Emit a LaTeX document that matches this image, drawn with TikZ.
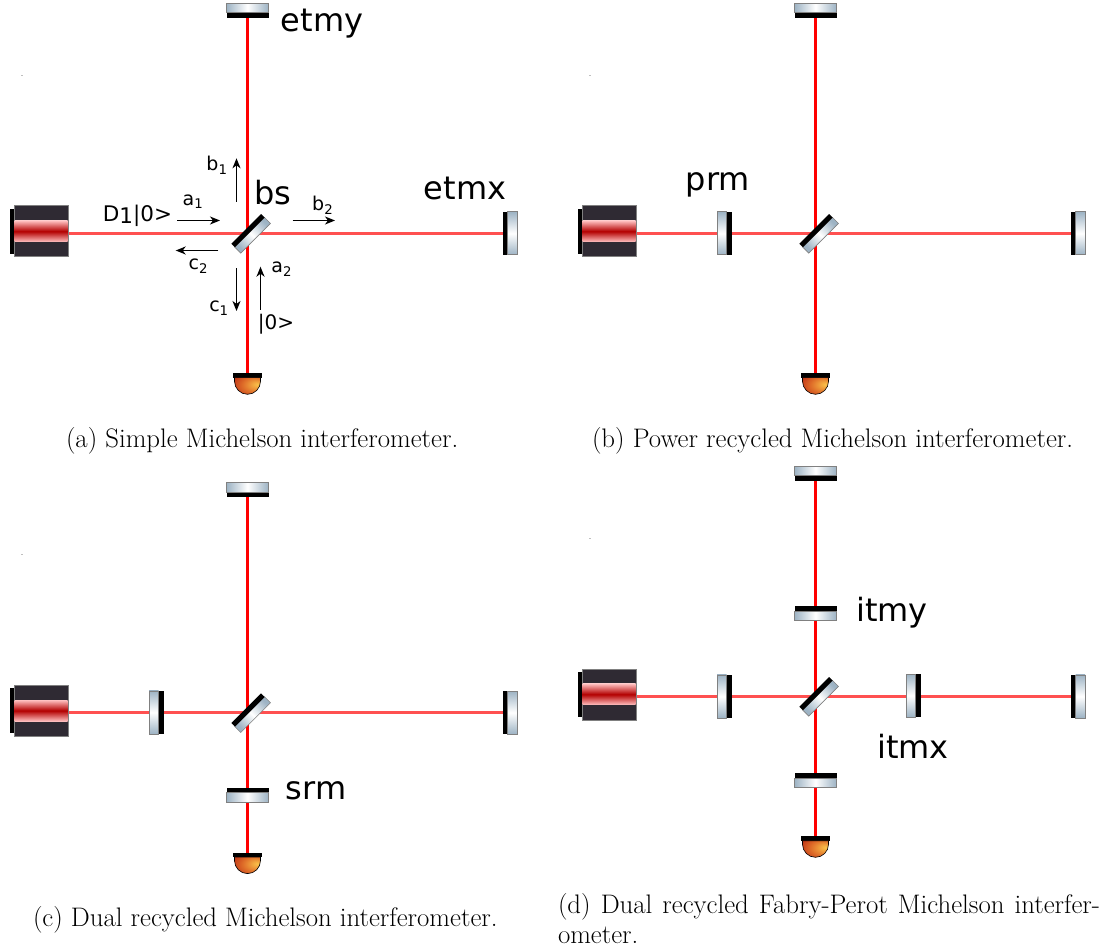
\documentclass[tikz,border=0pt]{standalone}
\usepackage{fontspec}
\setsansfont{DejaVu Sans}
\usetikzlibrary{positioning,backgrounds,arrows.meta}

\definecolor{steel}{HTML}{9DB3C4}
\definecolor{housing}{HTML}{2F2A33}
\definecolor{beamx}{HTML}{FF5050}
\definecolor{cuplight}{HTML}{FBC34A}
\definecolor{cupmid}{HTML}{E0702A}
\definecolor{cupdark}{HTML}{B31B0E}
\pgfdeclareradialshading{cupshade}{\pgfpoint{20bp}{5bp}}{%
  color(0bp)=(cuplight);color(22bp)=(cupmid);color(48bp)=(cupdark);color(70bp)=(cupdark)}

% common parts of one interferometer, origin at the beam crossing
\newcommand{\michelson}{
  \node[speck] (speck) at (-225.5,-158) {};
  \node[laser] (laser) at (-206.5,-2) {};
  \node[band] (band) at (laser.center) {};
  \node[laserbar,left=0pt of laser] (back) {};
  \coordinate (cross) at (0,0);
  \coordinate (exit) at (band.east |- cross);
  \node[glassbs] (bs glass) at (5.1,2) {};
  \node[barbs] (bs) at (0.5,-2.6) {};
  \node[hbar] (etmy) at (0,-218.2) {};
  \node[hglass,above=0pt of etmy] (etmy glass) {};
  \node[vbar] (etmx) at (257.5,0) {};
  \node[vglass,right=0pt of etmx] (etmx glass) {};
  \node[detbar] (det) at (0,142.2) {};
  \path[cup] ([xshift=-13pt]det.south) -- ++(0,3.6) arc (180:0:13) -- ++(0,-3.6) -- cycle;
  \begin{scope}[on background layer]
    \path[hor beam] (exit) edge (cross) (cross) edge (etmx);
    \path[ver beam] (etmy) edge (cross) (cross) edge (det);
  \end{scope}
}

\begin{document}
\begin{tikzpicture}[x=1pt,y=-1pt,>={Stealth[length=10pt,width=8pt,inset=3pt]},
    every node/.style={inner sep=0pt,outer sep=0pt},
    speck/.style={fill=gray!50,minimum size=1.5pt},
    laser/.style={draw=gray,fill=housing,line width=.6pt,minimum width=54pt,minimum height=51pt},
    band/.style={top color=red!25,bottom color=red!25,middle color=red!70!black,minimum width=53pt,minimum height=21pt},
    laserbar/.style={fill=black,minimum width=4.5pt,minimum height=45pt},
    hglass/.style={draw=gray,line width=.6pt,left color=steel,right color=steel,middle color=white,minimum width=42pt,minimum height=9.5pt},
    vglass/.style={draw=gray,line width=.6pt,top color=steel,bottom color=steel,middle color=white,minimum width=9.5pt,minimum height=43pt},
    hbar/.style={fill=black,minimum width=42pt,minimum height=5pt},
    vbar/.style={fill=black,minimum width=5pt,minimum height=43pt},
    glassbs/.style={draw=gray,line width=.6pt,rotate=45,left color=steel,right color=steel,middle color=white,shading angle=135,minimum width=42pt,minimum height=8.5pt},
    barbs/.style={fill=black,rotate=45,minimum width=42pt,minimum height=5pt},
    detbar/.style={fill=black,minimum width=29.6pt,minimum height=4.4pt},
    cup/.style={draw=black,line width=.6pt,shading=cupshade},
    hor beam/.style={draw=beamx,line width=3pt},
    ver beam/.style={draw=red,line width=3pt},
    flow/.style={->,line width=1.4pt},
    big tag/.style={font=\fontsize{32}{32}\sffamily},
    tag/.style={font=\fontsize{19}{19}\sffamily},
    caption/.style={font=\fontsize{26.8}{30}\selectfont,anchor=base west,align=left}]
  \useasboundingbox (0,0) rectangle (1114,949);

  \foreach \panel/\ox/\oy in {a/247.5/233.3,b/815.5/233.3,c/247.5/712.6,d/815.5/696.3}{
    \begin{scope}[shift={(\ox,\oy)},name prefix=\panel-]
      \michelson
    \end{scope}
  }

  % recycling and input mirrors
  \node[vbar] (b-prm) at (729.2,233.3) {};
  \node[vglass,left=0pt of b-prm] (b-prm glass) {};
  \node[vbar] (c-prm) at (161.2,712.3) {};
  \node[vglass,left=0pt of c-prm] (c-prm glass) {};
  \node[vbar] (d-prm) at (729.2,696.3) {};
  \node[vglass,left=0pt of d-prm] (d-prm glass) {};
  \node[hbar] (c-srm) at (247.5,790) {};
  \node[hglass,below=0pt of c-srm] (c-srm glass) {};
  \node[hbar] (d-srm) at (815.5,775.5) {};
  \node[hglass,below=0pt of d-srm] (d-srm glass) {};
  \node[hbar] (d-itmy) at (815.5,608.5) {};
  \node[hglass,below=0pt of d-itmy] (d-itmy glass) {};
  \node[vbar] (d-itmx) at (918,695.5) {};
  \node[vglass,left=0pt of d-itmx] (d-itmx glass) {};

  % names of the optics
  \node[big tag] (etmy tag) at (322,24) {etmy};
  \node[big tag] (etmx tag) at (465,188) {etmx};
  \node[big tag] (bs tag) at (273,193) {bs};
  \node[big tag] (prm tag) at (718,185) {prm};
  \node[big tag] (srm tag) at (316,791) {srm};
  \node[big tag] (itmy tag) at (892,613) {itmy};
  \node[big tag] (itmx tag) at (913,746) {itmx};

  % fields at the beam splitter
  \node[tag,font=\fontsize{21.5}{21.5}\sffamily] (input) at (137.5,216) {D\raisebox{-2pt}{1}|0>};
  \node[tag,font=\fontsize{20}{20}\sffamily] (vacuum) at (276,324) {|0>};
  \node[tag] (a1) at (193,201.7) {a\textsubscript{1}};
  \node[tag] (a2) at (281.7,269.3) {a\textsubscript{2}};
  \node[tag] (b1) at (217,165) {b\textsubscript{1}};
  \node[tag] (b2) at (322.7,205) {b\textsubscript{2}};
  \node[tag] (c1) at (219,308.3) {c\textsubscript{1}};
  \node[tag] (c2) at (198.3,266) {c\textsubscript{2}};
  \foreach \name/\xa/\ya/\xb/\yb in {a1/177.3/220.5/220/220.5,a2/260.5/310/260.5/266.7,
      b1/236.5/201.7/236.5/158.3,b2/292.7/220.5/335/220.5,
      c1/236.5/268.3/236.5/311,c2/218.3/250.5/175.7/250.5}{
    \coordinate (\name tail) at (\xa,\ya);
    \coordinate (\name head) at (\xb,\yb);
    \draw[flow] (\name tail) -- (\name head);
  }

  \node[caption] (a-caption) at (66,448) {(a) Simple Michelson interferometer.};
  \node[caption] (b-caption) at (592,448) {(b) Power recycled Michelson interferometer.};
  \node[caption] (c-caption) at (33,926) {(c) Dual recycled Michelson interferometer.};
  \node[caption] (d-caption) at (558,943) {\makebox[542pt][s]{(d) Dual recycled Fabry-Perot Michelson interfer-}\\ometer.};
\end{tikzpicture}
\end{document}
